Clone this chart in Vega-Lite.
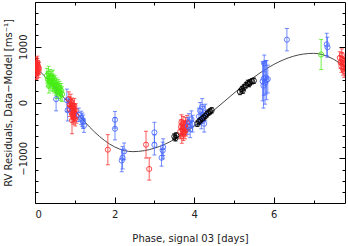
{
  "$schema": "https://vega.github.io/schema/vega-lite/v6.json",
  "width": 310,
  "height": 201,
  "autosize": {"type": "none"},
  "padding": {"left": 35, "top": 2, "right": 3, "bottom": 43},
  "config": {
    "view": {"stroke": "#000000", "strokeWidth": 1},
    "font": "DejaVu Sans",
    "axis": {"domain": false, "grid": false, "tickColor": "#000000", "labelColor": "#222222", "titleColor": "#222222", "labelFont": "DejaVu Sans", "titleFont": "DejaVu Sans", "titleFontWeight": "normal", "labelFontSize": 10, "titleFontSize": 10}
  },
  "datasets": {
    "curve": [
      {"p": 0, "v": 640}, {"p": 0.25, "v": 467}, {"p": 0.5, "v": 274}, {"p": 0.75, "v": 69},
      {"p": 1.0, "v": -143}, {"p": 1.25, "v": -347}, {"p": 1.5, "v": -530}, {"p": 1.75, "v": -682},
      {"p": 2.0, "v": -795}, {"p": 2.25, "v": -862}, {"p": 2.46, "v": -880}, {"p": 2.75, "v": -862},
      {"p": 3.0, "v": -819}, {"p": 3.25, "v": -752}, {"p": 3.5, "v": -661}, {"p": 3.75, "v": -551},
      {"p": 4.0, "v": -424}, {"p": 4.25, "v": -285}, {"p": 4.5, "v": -136}, {"p": 4.75, "v": 15},
      {"p": 5.0, "v": 167}, {"p": 5.25, "v": 313}, {"p": 5.5, "v": 451}, {"p": 5.75, "v": 575},
      {"p": 6.0, "v": 681}, {"p": 6.25, "v": 767}, {"p": 6.5, "v": 830}, {"p": 6.75, "v": 868},
      {"p": 7.0, "v": 880}, {"p": 7.25, "v": 852}, {"p": 7.5, "v": 776}, {"p": 7.79, "v": 640}
    ],
    "pts": [
      {"p": 0.01, "v": 650, "lo": 540, "hi": 760, "s": "r"},
      {"p": 0.02, "v": 580, "lo": 470, "hi": 690, "s": "r"},
      {"p": 0.03, "v": 700, "lo": 590, "hi": 810, "s": "r"},
      {"p": 0.04, "v": 620, "lo": 510, "hi": 730, "s": "r"},
      {"p": 0.05, "v": 540, "lo": 430, "hi": 650, "s": "r"},
      {"p": 0.06, "v": 680, "lo": 570, "hi": 790, "s": "r"},
      {"p": 0.07, "v": 600, "lo": 490, "hi": 710, "s": "r"},
      {"p": 0.08, "v": 640, "lo": 530, "hi": 750, "s": "r"},
      {"p": 0.09, "v": 560, "lo": 450, "hi": 670, "s": "r"},
      {"p": 0.10, "v": 610, "lo": 500, "hi": 720, "s": "r"},
      {"p": 0.03, "v": 520, "lo": 410, "hi": 630, "s": "r"},
      {"p": 0.06, "v": 720, "lo": 610, "hi": 830, "s": "r"},
      {"p": 0.85, "v": 60, "lo": -70, "hi": 190, "s": "r"},
      {"p": 0.87, "v": -30, "lo": -160, "hi": 100, "s": "r"},
      {"p": 0.88, "v": -120, "lo": -250, "hi": 10, "s": "r"},
      {"p": 0.90, "v": 20, "lo": -110, "hi": 150, "s": "r"},
      {"p": 0.91, "v": -80, "lo": -210, "hi": 50, "s": "r"},
      {"p": 0.92, "v": -180, "lo": -310, "hi": -50, "s": "r"},
      {"p": 0.93, "v": -50, "lo": -180, "hi": 80, "s": "r"},
      {"p": 0.94, "v": -140, "lo": -270, "hi": -10, "s": "r"},
      {"p": 0.95, "v": -220, "lo": -350, "hi": -90, "s": "r"},
      {"p": 0.96, "v": -100, "lo": -230, "hi": 30, "s": "r"},
      {"p": 0.97, "v": -260, "lo": -390, "hi": -130, "s": "r"},
      {"p": 0.98, "v": -170, "lo": -300, "hi": -40, "s": "r"},
      {"p": 0.99, "v": -60, "lo": -190, "hi": 70, "s": "r"},
      {"p": 1.00, "v": -200, "lo": -330, "hi": -70, "s": "r"},
      {"p": 1.01, "v": -290, "lo": -420, "hi": -160, "s": "r"},
      {"p": 1.02, "v": -150, "lo": -280, "hi": -20, "s": "r"},
      {"p": 1.04, "v": -240, "lo": -370, "hi": -110, "s": "r"},
      {"p": 0.93, "v": -320, "lo": -560, "hi": -80, "s": "r"},
      {"p": 1.83, "v": -845, "lo": -1115, "hi": -575, "s": "r"},
      {"p": 2.79, "v": -755, "lo": -995, "hi": -515, "s": "r"},
      {"p": 2.87, "v": -1190, "lo": -1390, "hi": -990, "s": "r"},
      {"p": 3.65, "v": -520, "lo": -650, "hi": -390, "s": "r"},
      {"p": 3.67, "v": -440, "lo": -570, "hi": -310, "s": "r"},
      {"p": 3.69, "v": -600, "lo": -730, "hi": -470, "s": "r"},
      {"p": 3.70, "v": -480, "lo": -610, "hi": -350, "s": "r"},
      {"p": 3.72, "v": -380, "lo": -510, "hi": -250, "s": "r"},
      {"p": 3.73, "v": -550, "lo": -680, "hi": -420, "s": "r"},
      {"p": 3.75, "v": -450, "lo": -580, "hi": -320, "s": "r"},
      {"p": 3.77, "v": -520, "lo": -650, "hi": -390, "s": "r"},
      {"p": 3.78, "v": -400, "lo": -530, "hi": -270, "s": "r"},
      {"p": 3.80, "v": -470, "lo": -600, "hi": -340, "s": "r"},
      {"p": 3.82, "v": -360, "lo": -490, "hi": -230, "s": "r"},
      {"p": 3.68, "v": -350, "lo": -480, "hi": -220, "s": "r"},
      {"p": 7.66, "v": 800, "lo": 690, "hi": 910, "s": "r"},
      {"p": 7.68, "v": 720, "lo": 610, "hi": 830, "s": "r"},
      {"p": 7.70, "v": 650, "lo": 540, "hi": 760, "s": "r"},
      {"p": 7.72, "v": 780, "lo": 670, "hi": 890, "s": "r"},
      {"p": 7.74, "v": 600, "lo": 490, "hi": 710, "s": "r"},
      {"p": 7.75, "v": 700, "lo": 590, "hi": 810, "s": "r"},
      {"p": 7.77, "v": 560, "lo": 450, "hi": 670, "s": "r"},
      {"p": 7.78, "v": 680, "lo": 570, "hi": 790, "s": "r"},
      {"p": 7.71, "v": 850, "lo": 740, "hi": 960, "s": "r"},
      {"p": 0.30, "v": 480, "lo": 350, "hi": 610, "s": "g"},
      {"p": 0.32, "v": 420, "lo": 290, "hi": 550, "s": "g"},
      {"p": 0.34, "v": 520, "lo": 390, "hi": 650, "s": "g"},
      {"p": 0.36, "v": 390, "lo": 260, "hi": 520, "s": "g"},
      {"p": 0.38, "v": 460, "lo": 330, "hi": 590, "s": "g"},
      {"p": 0.40, "v": 350, "lo": 220, "hi": 480, "s": "g"},
      {"p": 0.42, "v": 430, "lo": 300, "hi": 560, "s": "g"},
      {"p": 0.44, "v": 330, "lo": 200, "hi": 460, "s": "g"},
      {"p": 0.46, "v": 380, "lo": 250, "hi": 510, "s": "g"},
      {"p": 0.48, "v": 300, "lo": 170, "hi": 430, "s": "g"},
      {"p": 0.50, "v": 350, "lo": 220, "hi": 480, "s": "g"},
      {"p": 0.52, "v": 260, "lo": 130, "hi": 390, "s": "g"},
      {"p": 0.54, "v": 310, "lo": 180, "hi": 440, "s": "g"},
      {"p": 0.56, "v": 230, "lo": 100, "hi": 360, "s": "g"},
      {"p": 0.58, "v": 280, "lo": 150, "hi": 410, "s": "g"},
      {"p": 0.60, "v": 200, "lo": 70, "hi": 330, "s": "g"},
      {"p": 0.62, "v": 250, "lo": 120, "hi": 380, "s": "g"},
      {"p": 0.64, "v": 170, "lo": 40, "hi": 300, "s": "g"},
      {"p": 0.66, "v": 210, "lo": 80, "hi": 340, "s": "g"},
      {"p": 0.68, "v": 150, "lo": 20, "hi": 280, "s": "g"},
      {"p": 0.35, "v": 300, "lo": 170, "hi": 430, "s": "g"},
      {"p": 0.45, "v": 450, "lo": 320, "hi": 580, "s": "g"},
      {"p": 0.55, "v": 200, "lo": 70, "hi": 330, "s": "g"},
      {"p": 7.19, "v": 860, "lo": 590, "hi": 1130, "s": "g"},
      {"p": 0.53, "v": 60, "lo": -150, "hi": 270, "s": "b"},
      {"p": 0.80, "v": 40, "lo": -160, "hi": 240, "s": "b"},
      {"p": 0.82, "v": -140, "lo": -330, "hi": 50, "s": "b"},
      {"p": 1.10, "v": -220, "lo": -340, "hi": -100, "s": "b"},
      {"p": 1.16, "v": -275, "lo": -395, "hi": -155, "s": "b"},
      {"p": 1.21, "v": -345, "lo": -465, "hi": -225, "s": "b"},
      {"p": 1.23, "v": -415, "lo": -535, "hi": -295, "s": "b"},
      {"p": 1.19, "v": -310, "lo": -430, "hi": -190, "s": "b"},
      {"p": 2.01, "v": -310, "lo": -460, "hi": -160, "s": "b"},
      {"p": 2.01, "v": -470, "lo": -670, "hi": -270, "s": "b"},
      {"p": 2.24, "v": -875, "lo": -1025, "hi": -725, "s": "b"},
      {"p": 2.18, "v": -1040, "lo": -1240, "hi": -840, "s": "b"},
      {"p": 2.20, "v": -990, "lo": -1190, "hi": -790, "s": "b"},
      {"p": 3.00, "v": -535, "lo": -715, "hi": -355, "s": "b"},
      {"p": 3.00, "v": -760, "lo": -940, "hi": -580, "s": "b"},
      {"p": 3.22, "v": -800, "lo": -950, "hi": -650, "s": "b"},
      {"p": 3.21, "v": -860, "lo": -1010, "hi": -710, "s": "b"},
      {"p": 3.18, "v": -990, "lo": -1140, "hi": -840, "s": "b"},
      {"p": 3.84, "v": -420, "lo": -570, "hi": -270, "s": "b"},
      {"p": 3.87, "v": -350, "lo": -500, "hi": -200, "s": "b"},
      {"p": 3.90, "v": -480, "lo": -630, "hi": -330, "s": "b"},
      {"p": 3.93, "v": -300, "lo": -450, "hi": -150, "s": "b"},
      {"p": 3.96, "v": -380, "lo": -530, "hi": -230, "s": "b"},
      {"p": 4.12, "v": -250, "lo": -400, "hi": -100, "s": "b"},
      {"p": 4.15, "v": -150, "lo": -300, "hi": 0, "s": "b"},
      {"p": 4.18, "v": -320, "lo": -470, "hi": -170, "s": "b"},
      {"p": 4.20, "v": -80, "lo": -230, "hi": 70, "s": "b"},
      {"p": 4.22, "v": -220, "lo": -370, "hi": -70, "s": "b"},
      {"p": 4.25, "v": -380, "lo": -530, "hi": -230, "s": "b"},
      {"p": 4.28, "v": -180, "lo": -330, "hi": -30, "s": "b"},
      {"p": 5.72, "v": 380, "lo": 30, "hi": 730, "s": "b"},
      {"p": 5.75, "v": 430, "lo": 130, "hi": 730, "s": "b"},
      {"p": 5.78, "v": 350, "lo": -30, "hi": 730, "s": "b"},
      {"p": 5.80, "v": 450, "lo": 150, "hi": 750, "s": "b"},
      {"p": 5.82, "v": 400, "lo": 50, "hi": 750, "s": "b"},
      {"p": 5.85, "v": 420, "lo": 170, "hi": 670, "s": "b"},
      {"p": 5.76, "v": 700, "lo": 550, "hi": 850, "s": "b"},
      {"p": 5.74, "v": 300, "lo": -100, "hi": 700, "s": "b"},
      {"p": 6.33, "v": 1125, "lo": 925, "hi": 1325, "s": "b"},
      {"p": 7.33, "v": 1040, "lo": 840, "hi": 1240, "s": "b"},
      {"p": 7.35, "v": 990, "lo": 810, "hi": 1170, "s": "b"},
      {"p": 3.50, "v": -610, "lo": -660, "hi": -560, "s": "k"},
      {"p": 3.53, "v": -640, "lo": -690, "hi": -590, "s": "k"},
      {"p": 3.55, "v": -590, "lo": -640, "hi": -540, "s": "k"},
      {"p": 4.08, "v": -380, "lo": -430, "hi": -330, "s": "k"},
      {"p": 4.12, "v": -340, "lo": -390, "hi": -290, "s": "k"},
      {"p": 4.16, "v": -320, "lo": -370, "hi": -270, "s": "k"},
      {"p": 4.20, "v": -290, "lo": -340, "hi": -240, "s": "k"},
      {"p": 4.24, "v": -270, "lo": -320, "hi": -220, "s": "k"},
      {"p": 4.28, "v": -240, "lo": -290, "hi": -190, "s": "k"},
      {"p": 4.32, "v": -210, "lo": -260, "hi": -160, "s": "k"},
      {"p": 4.36, "v": -180, "lo": -230, "hi": -130, "s": "k"},
      {"p": 4.40, "v": -160, "lo": -210, "hi": -110, "s": "k"},
      {"p": 4.44, "v": -140, "lo": -190, "hi": -90, "s": "k"},
      {"p": 5.15, "v": 190, "lo": 140, "hi": 240, "s": "k"},
      {"p": 5.20, "v": 240, "lo": 190, "hi": 290, "s": "k"},
      {"p": 5.22, "v": 210, "lo": 160, "hi": 260, "s": "k"},
      {"p": 5.25, "v": 270, "lo": 220, "hi": 320, "s": "k"},
      {"p": 5.30, "v": 310, "lo": 260, "hi": 360, "s": "k"},
      {"p": 5.35, "v": 350, "lo": 300, "hi": 400, "s": "k"},
      {"p": 5.38, "v": 330, "lo": 280, "hi": 380, "s": "k"},
      {"p": 5.40, "v": 360, "lo": 310, "hi": 410, "s": "k"},
      {"p": 5.45, "v": 380, "lo": 330, "hi": 430, "s": "k"},
      {"p": 5.50, "v": 390, "lo": 340, "hi": 440, "s": "k"}
    ]
  },
  "resolve": {"axis": {"x": "independent", "y": "independent"}},
  "layer": [
    {
      "data": {"name": "curve"},
      "mark": {"type": "line", "color": "#333333", "strokeWidth": 0.9, "interpolate": "monotone", "clip": true},
      "encoding": {
        "x": {"field": "p", "type": "quantitative", "scale": {"domain": [0, 7.79], "nice": false, "zero": false},
          "axis": {"orient": "bottom", "values": [0, 2, 4, 6], "format": "d", "tickSize": -6, "labelPadding": 12, "title": "Phase, signal 03 [days]", "titlePadding": 14}},
        "y": {"field": "v", "type": "quantitative", "scale": {"domain": [-1800, 1800], "nice": false, "zero": false},
          "axis": {"orient": "left", "values": [-1000, 0, 1000], "format": "d", "tickSize": -6, "labelAngle": 270, "labelAlign": "center", "labelBaseline": "bottom", "labelPadding": 13, "title": "RV Residuals, Data−Model [ms⁻¹]", "titlePadding": 5}}
      }
    },
    {
      "data": {"name": "pts"},
      "mark": {"type": "rule", "strokeWidth": 1, "opacity": 0.75, "clip": true},
      "encoding": {
        "x": {"field": "p", "type": "quantitative", "scale": {"domain": [0, 7.79], "nice": false, "zero": false},
          "axis": {"orient": "bottom", "values": [1, 3, 5, 7], "tickSize": -3, "labels": false, "title": null}},
        "y": {"field": "lo", "type": "quantitative", "scale": {"domain": [-1800, 1800], "nice": false, "zero": false},
          "axis": {"orient": "left", "values": [-1600, -1400, -1200, -800, -600, -400, -200, 200, 400, 600, 800, 1200, 1400, 1600], "tickSize": -3, "labels": false, "title": null}},
        "y2": {"field": "hi"},
        "color": {"field": "s", "type": "nominal", "scale": {"domain": ["r", "g", "b", "k"], "range": ["#ff2a2a", "#44ee11", "#4466ff", "#000000"]}, "legend": null}
      }
    },
    {
      "data": {"name": "pts"},
      "mark": {"type": "tick", "orient": "horizontal", "size": 4, "thickness": 1, "opacity": 0.75, "clip": true},
      "encoding": {
        "x": {"field": "p", "type": "quantitative", "scale": {"domain": [0, 7.79], "nice": false, "zero": false},
          "axis": {"orient": "top", "values": [0, 2, 4, 6], "tickSize": -6, "labels": false, "title": null}},
        "y": {"field": "lo", "type": "quantitative", "scale": {"domain": [-1800, 1800], "nice": false, "zero": false},
          "axis": {"orient": "right", "values": [-1000, 0, 1000], "tickSize": -6, "labels": false, "title": null}},
        "color": {"field": "s", "type": "nominal", "legend": null}
      }
    },
    {
      "data": {"name": "pts"},
      "mark": {"type": "tick", "orient": "horizontal", "size": 4, "thickness": 1, "opacity": 0.75, "clip": true},
      "encoding": {
        "x": {"field": "p", "type": "quantitative", "scale": {"domain": [0, 7.79], "nice": false, "zero": false},
          "axis": {"orient": "top", "values": [1, 3, 5, 7], "tickSize": -3, "labels": false, "title": null}},
        "y": {"field": "hi", "type": "quantitative", "scale": {"domain": [-1800, 1800], "nice": false, "zero": false},
          "axis": {"orient": "right", "values": [-1600, -1400, -1200, -800, -600, -400, -200, 200, 400, 600, 800, 1200, 1400, 1600], "tickSize": -3, "labels": false, "title": null}},
        "color": {"field": "s", "type": "nominal", "legend": null}
      }
    },
    {
      "data": {"name": "pts"},
      "mark": {"type": "point", "shape": "circle", "filled": false, "size": 26, "strokeWidth": 1, "opacity": 0.85, "clip": true},
      "encoding": {
        "x": {"field": "p", "type": "quantitative", "axis": null},
        "y": {"field": "v", "type": "quantitative", "axis": null},
        "color": {"field": "s", "type": "nominal", "legend": null}
      }
    }
  ]
}
